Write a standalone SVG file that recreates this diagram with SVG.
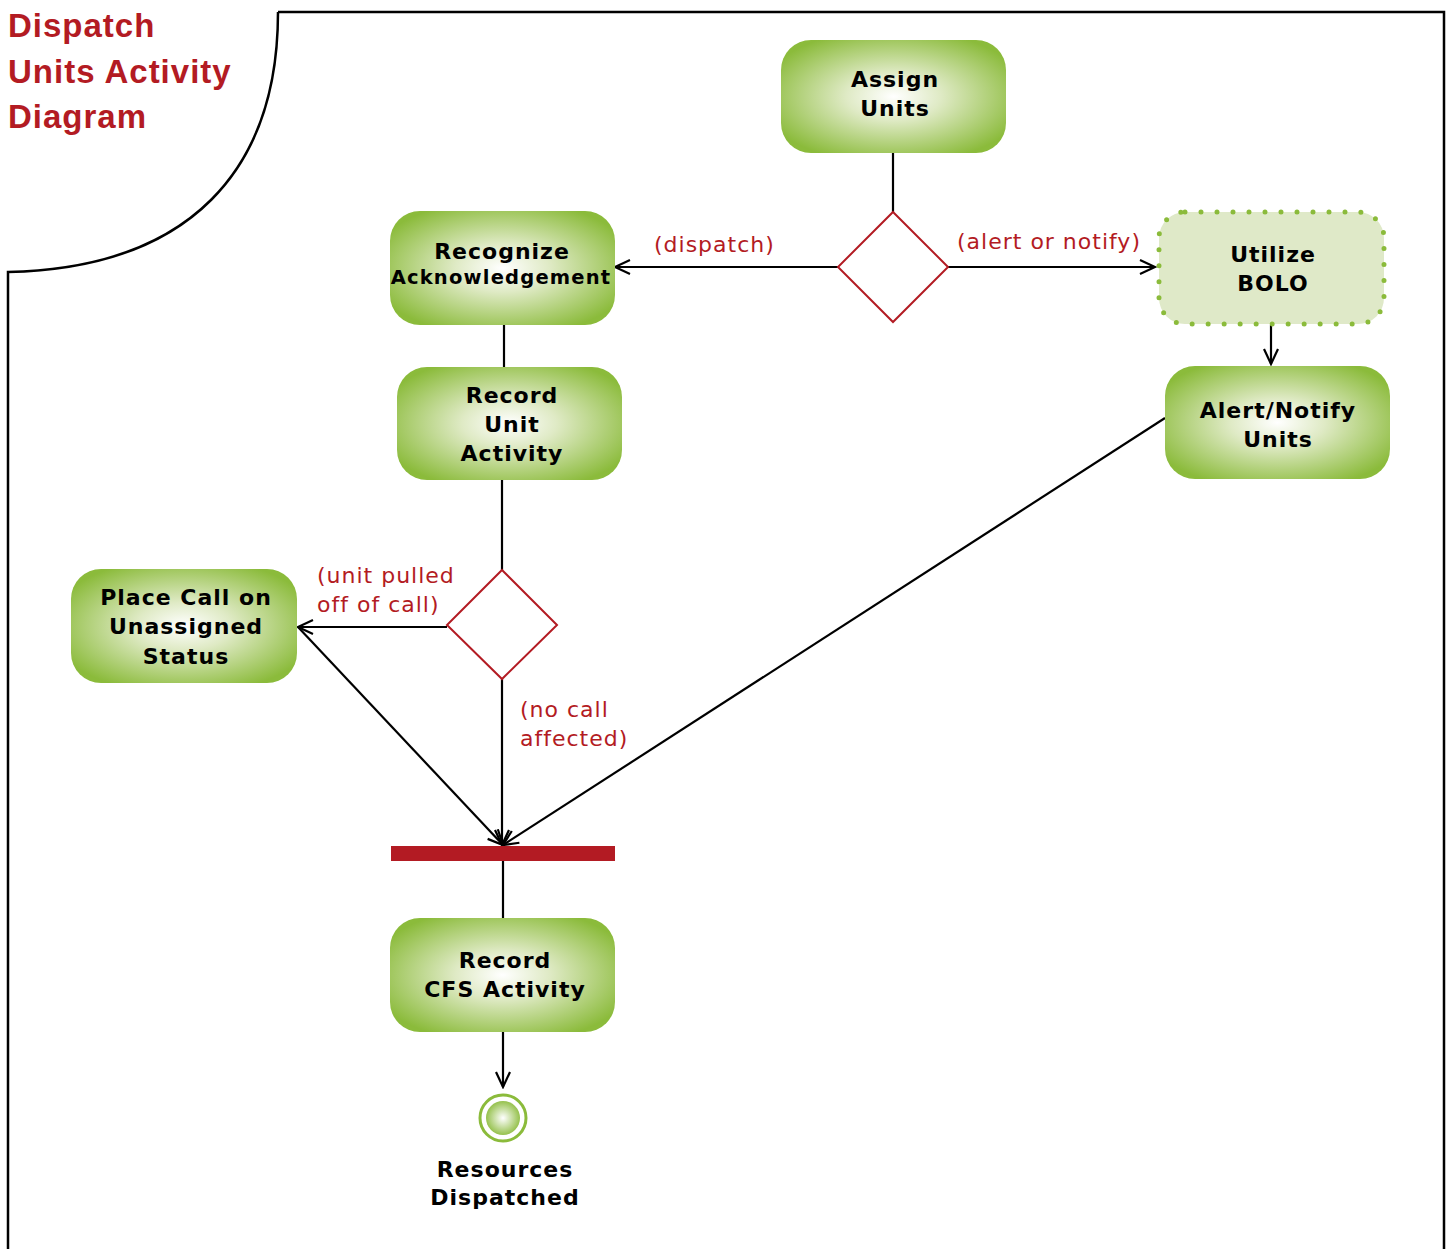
<svg xmlns="http://www.w3.org/2000/svg" width="1448" height="1249" viewBox="0 0 1448 1249">
<style>
.node{stroke:none}
.lbl{font-family:"DejaVu Sans",Verdana,sans-serif;font-weight:bold;font-size:22px;letter-spacing:1px;fill:#000;text-anchor:middle}
.guard{font-family:"DejaVu Sans",Verdana,sans-serif;font-size:22px;letter-spacing:1px;fill:#b31b23}
.edge{stroke:#000;stroke-width:2.2;fill:none}
.title{font-family:"Liberation Sans",Arial,sans-serif;font-weight:bold;font-size:33px;letter-spacing:1px;fill:#b31b23}
</style>
<defs>
<radialGradient id="g" cx="50%" cy="50%" r="60%">
<stop offset="0" stop-color="#ffffff"/>
<stop offset="0.35" stop-color="#dfeac5"/>
<stop offset="1" stop-color="#8bbb3b"/>
</radialGradient>
<radialGradient id="gf" cx="50%" cy="50%" r="55%">
<stop offset="0" stop-color="#ffffff"/>
<stop offset="1" stop-color="#8bbb3b"/>
</radialGradient>
<marker id="arr" markerUnits="userSpaceOnUse" markerWidth="20" markerHeight="20" viewBox="0 0 20 20" refX="18" refY="10" orient="auto">
<path d="M3,3 L18,10 L3,17" fill="none" stroke="#000" stroke-width="2.2"/>
</marker>
</defs>
<rect width="1448" height="1249" fill="#fff"/>
<path d="M278,12 L1444,12 L1444,1249 M8,1249 L8,272 C190,268 278,170 278,12" fill="none" stroke="#000" stroke-width="2.5"/>
<g id="title">
<text class="title" x="8" y="37">Dispatch</text>
<text class="title" x="8" y="83">Units Activity</text>
<text class="title" x="8" y="128">Diagram</text>
</g>
<g id="connectors">
<line class="edge" x1="893" y1="153" x2="893" y2="212"/>
<line class="edge" x1="838" y1="267" x2="615" y2="267" marker-end="url(#arr)"/>
<line class="edge" x1="948" y1="267" x2="1155" y2="267" marker-end="url(#arr)"/>
<line class="edge" x1="1271" y1="325" x2="1271" y2="364" marker-end="url(#arr)"/>
<line class="edge" x1="504" y1="325" x2="504" y2="367"/>
<line class="edge" x1="502" y1="480" x2="502" y2="570"/>
<line class="edge" x1="447" y1="627" x2="298" y2="627" marker-end="url(#arr)"/>
<line class="edge" x1="298" y1="627" x2="503" y2="845" marker-end="url(#arr)"/>
<line class="edge" x1="502" y1="679" x2="502" y2="845" marker-end="url(#arr)"/>
<line class="edge" x1="1165" y1="418" x2="503" y2="845" marker-end="url(#arr)"/>
<line class="edge" x1="503" y1="861" x2="503" y2="918"/>
<line class="edge" x1="503" y1="1032" x2="503" y2="1087" marker-end="url(#arr)"/>
<text class="guard" x="654" y="252">(dispatch)</text>
<text class="guard" x="957" y="249">(alert or notify)</text>
<text class="guard" x="317" y="583">(unit pulled</text>
<text class="guard" x="317" y="612">off of call)</text>
<text class="guard" x="520" y="717">(no call</text>
<text class="guard" x="520" y="746">affected)</text>
</g>
<g id="assign-units">
<rect class="node" x="781" y="40" width="225" height="113" rx="30" fill="url(#g)"/>
<text class="lbl" x="895" y="87">Assign</text>
<text class="lbl" x="895" y="116">Units</text>
</g>
<g id="decision1">
<polygon points="893,212 948,267 893,322 838,267" fill="#fff" stroke="#b31b23" stroke-width="2"/>
</g>
<g id="recognize">
<rect class="node" x="390" y="211" width="225" height="114" rx="30" fill="url(#g)"/>
<text class="lbl" x="502" y="259">Recognize</text>
<text class="lbl" x="501" y="284" style="font-size:19.5px;letter-spacing:1.2px">Acknowledgement</text>
</g>
<g id="utilize-bolo">
<rect x="1159" y="212" width="225" height="112" rx="26" fill="#dfe9c8" stroke="#8bbb3b" stroke-width="5" stroke-dasharray="0 16" stroke-linecap="round"/>
<text class="lbl" x="1273" y="262">Utilize</text>
<text class="lbl" x="1273" y="291">BOLO</text>
</g>
<g id="record-unit">
<rect class="node" x="397" y="367" width="225" height="113" rx="30" fill="url(#g)"/>
<text class="lbl" x="512" y="403">Record</text>
<text class="lbl" x="512" y="432">Unit</text>
<text class="lbl" x="512" y="461">Activity</text>
</g>
<g id="alert-notify">
<rect class="node" x="1165" y="366" width="225" height="113" rx="30" fill="url(#g)"/>
<text class="lbl" x="1278" y="418">Alert/Notify</text>
<text class="lbl" x="1278" y="447">Units</text>
</g>
<g id="decision2">
<polygon points="502,570 557,625 502,679 447,625" fill="#fff" stroke="#b31b23" stroke-width="2"/>
</g>
<g id="place-call">
<rect class="node" x="71" y="569" width="226" height="114" rx="30" fill="url(#g)"/>
<text class="lbl" x="186" y="605">Place Call on</text>
<text class="lbl" x="186" y="634">Unassigned</text>
<text class="lbl" x="186" y="664">Status</text>
</g>
<g id="join-bar">
<rect x="391" y="846" width="224" height="15" fill="#b31b23"/>
</g>
<g id="record-cfs">
<rect class="node" x="390" y="918" width="225" height="114" rx="30" fill="url(#g)"/>
<text class="lbl" x="505" y="968">Record</text>
<text class="lbl" x="505" y="997">CFS Activity</text>
</g>
<g id="final">
<circle cx="503" cy="1118" r="23" fill="#fff" stroke="#8bbb3b" stroke-width="3"/>
<circle cx="503" cy="1118" r="17" fill="url(#gf)"/>
<text class="lbl" x="505" y="1177">Resources</text>
<text class="lbl" x="505" y="1205">Dispatched</text>
</g>
</svg>
